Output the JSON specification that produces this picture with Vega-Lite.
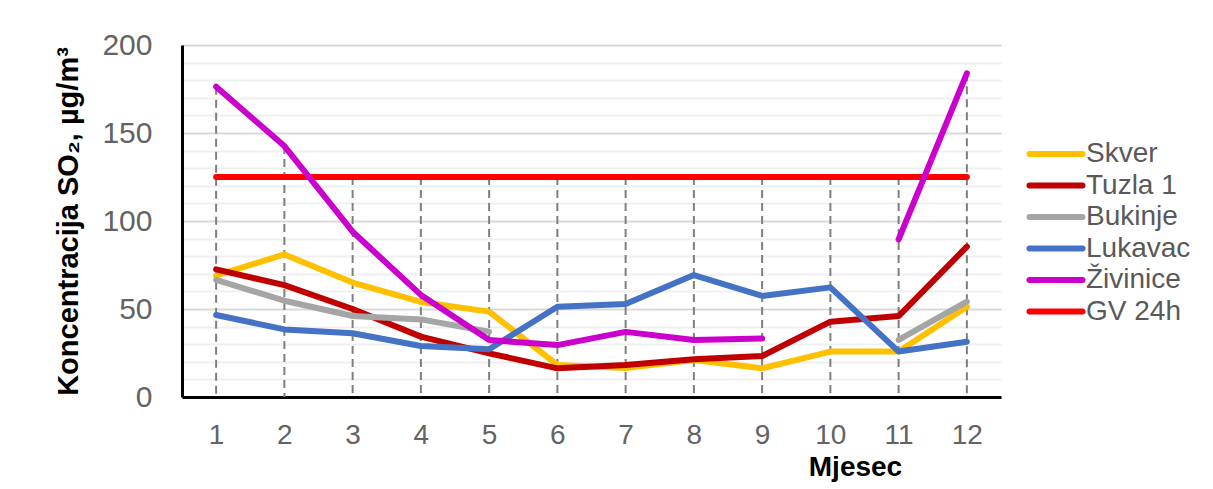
{
  "$schema": "https://vega.github.io/schema/vega-lite/v6.json",
  "width": 819,
  "height": 352,
  "autosize": {"type": "none"},
  "padding": {"left": 182, "top": 45, "right": 212, "bottom": 92},
  "config": {
    "view": {"stroke": null},
    "font": "Liberation Sans",
    "axisX": {
      "format": "d",
      "grid": false,
      "ticks": false,
      "tickSize": 0,
      "domainColor": "#000000",
      "domainWidth": 3,
      "labelFontSize": 28,
      "labelColor": "#636363",
      "labelPadding": 24,
      "labelFlush": false,
      "labelOverlap": false,
      "titleFontSize": 28,
      "titleFontWeight": "bold",
      "titleColor": "#000000",
      "titleX": 673,
      "titleY": 78,
      "titleAlign": "center",
      "titleBaseline": "alphabetic"
    },
    "axisY": {
      "format": "d",
      "grid": true,
      "gridWidth": 2,
      "ticks": false,
      "tickSize": 0,
      "domainColor": "#000000",
      "domainWidth": 3,
      "labelFontSize": 30,
      "labelColor": "#636363",
      "labelPadding": 30,
      "labelFlush": false,
      "labelOverlap": false,
      "titleFontSize": 29,
      "titleFontWeight": "bold",
      "titleColor": "#000000",
      "titleAngle": -90,
      "titleX": -105,
      "titleY": 176,
      "titleAlign": "center",
      "titleBaseline": "alphabetic"
    }
  },
  "data": {
    "values": [
      {"month": 1, "series": "GV 24h", "value": 125},
      {"month": 2, "series": "GV 24h", "value": 125},
      {"month": 3, "series": "GV 24h", "value": 125},
      {"month": 4, "series": "GV 24h", "value": 125},
      {"month": 5, "series": "GV 24h", "value": 125},
      {"month": 6, "series": "GV 24h", "value": 125},
      {"month": 7, "series": "GV 24h", "value": 125},
      {"month": 8, "series": "GV 24h", "value": 125},
      {"month": 9, "series": "GV 24h", "value": 125},
      {"month": 10, "series": "GV 24h", "value": 125},
      {"month": 11, "series": "GV 24h", "value": 125},
      {"month": 12, "series": "GV 24h", "value": 125},
      {"month": 1, "series": "Skver", "value": 69},
      {"month": 2, "series": "Skver", "value": 81},
      {"month": 3, "series": "Skver", "value": 65},
      {"month": 4, "series": "Skver", "value": 54},
      {"month": 5, "series": "Skver", "value": 48.5},
      {"month": 6, "series": "Skver", "value": 18.2},
      {"month": 7, "series": "Skver", "value": 16.5},
      {"month": 8, "series": "Skver", "value": 21},
      {"month": 9, "series": "Skver", "value": 16.3},
      {"month": 10, "series": "Skver", "value": 25.8},
      {"month": 11, "series": "Skver", "value": 25.8},
      {"month": 12, "series": "Skver", "value": 51.3},
      {"month": 1, "series": "Tuzla 1", "value": 72.5},
      {"month": 2, "series": "Tuzla 1", "value": 63.6},
      {"month": 3, "series": "Tuzla 1", "value": 50},
      {"month": 4, "series": "Tuzla 1", "value": 34.3},
      {"month": 5, "series": "Tuzla 1", "value": 24.8},
      {"month": 6, "series": "Tuzla 1", "value": 16.3},
      {"month": 7, "series": "Tuzla 1", "value": 18.2},
      {"month": 8, "series": "Tuzla 1", "value": 21.4},
      {"month": 9, "series": "Tuzla 1", "value": 23.3},
      {"month": 10, "series": "Tuzla 1", "value": 42.8},
      {"month": 11, "series": "Tuzla 1", "value": 46},
      {"month": 12, "series": "Tuzla 1", "value": 85.4},
      {"month": 1, "series": "Bukinje", "value": 66.5},
      {"month": 2, "series": "Bukinje", "value": 54.7},
      {"month": 3, "series": "Bukinje", "value": 46},
      {"month": 4, "series": "Bukinje", "value": 44.1},
      {"month": 5, "series": "Bukinje", "value": 37.1},
      {"month": 6, "series": "Bukinje", "value": null},
      {"month": 7, "series": "Bukinje", "value": null},
      {"month": 8, "series": "Bukinje", "value": null},
      {"month": 9, "series": "Bukinje", "value": null},
      {"month": 10, "series": "Bukinje", "value": null},
      {"month": 11, "series": "Bukinje", "value": 32.4},
      {"month": 12, "series": "Bukinje", "value": 54.2},
      {"month": 1, "series": "Lukavac", "value": 46.6},
      {"month": 2, "series": "Lukavac", "value": 38.4},
      {"month": 3, "series": "Lukavac", "value": 36.2},
      {"month": 4, "series": "Lukavac", "value": 29},
      {"month": 5, "series": "Lukavac", "value": 27.1},
      {"month": 6, "series": "Lukavac", "value": 51.3},
      {"month": 7, "series": "Lukavac", "value": 52.8},
      {"month": 8, "series": "Lukavac", "value": 69.3},
      {"month": 9, "series": "Lukavac", "value": 57.4},
      {"month": 10, "series": "Lukavac", "value": 62.3},
      {"month": 11, "series": "Lukavac", "value": 25.8},
      {"month": 12, "series": "Lukavac", "value": 31.4},
      {"month": 1, "series": "Živinice", "value": 176.3},
      {"month": 2, "series": "Živinice", "value": 142.6},
      {"month": 3, "series": "Živinice", "value": 93.9},
      {"month": 4, "series": "Živinice", "value": 58},
      {"month": 5, "series": "Živinice", "value": 32.4},
      {"month": 6, "series": "Živinice", "value": 29.5},
      {"month": 7, "series": "Živinice", "value": 37},
      {"month": 8, "series": "Živinice", "value": 32.4},
      {"month": 9, "series": "Živinice", "value": 33.3},
      {"month": 10, "series": "Živinice", "value": null},
      {"month": 11, "series": "Živinice", "value": 89.6},
      {"month": 12, "series": "Živinice", "value": 183.9}
    ]
  },
  "layer": [
    {
      "transform": [
        {"aggregate": [{"op": "max", "field": "value", "as": "maxv"}], "groupby": ["month"]}
      ],
      "mark": {"type": "rule", "stroke": "#7f7f7f", "strokeWidth": 2, "strokeDash": [8, 5]},
      "encoding": {
        "x": {"field": "month", "type": "quantitative", "scale": {"domain": [0.5, 12.5], "nice": false, "zero": false},
          "axis": {"title": "Mjesec", "values": [1, 2, 3, 4, 5, 6, 7, 8, 9, 10, 11, 12]}},
        "y": {"field": "maxv", "type": "quantitative", "scale": {"domain": [0, 200], "nice": false},
          "axis": {
            "title": "Koncentracija SO₂, µg/m³",
            "values": [0, 10, 20, 30, 40, 50, 60, 70, 80, 90, 100, 110, 120, 130, 140, 150, 160, 170, 180, 190, 200],
            "labelExpr": "datum.value % 50 === 0 ? datum.label : ''",
            "gridColor": {"condition": {"test": "datum.value % 50 === 0", "value": "#d9d9d9"}, "value": "#f0f0f0"}
          }
        },
        "y2": {"datum": 0}
      }
    },
    {
      "mark": {"type": "line", "strokeWidth": 6, "strokeCap": "round", "strokeJoin": "round", "invalid": "break-paths-filter-domains"},
      "encoding": {
        "x": {"field": "month", "type": "quantitative", "scale": {"domain": [0.5, 12.5], "nice": false, "zero": false},
          "axis": {"title": "Mjesec", "values": [1, 2, 3, 4, 5, 6, 7, 8, 9, 10, 11, 12]}},
        "y": {"field": "value", "type": "quantitative", "scale": {"domain": [0, 200], "nice": false},
          "axis": {
            "title": "Koncentracija SO₂, µg/m³",
            "values": [0, 10, 20, 30, 40, 50, 60, 70, 80, 90, 100, 110, 120, 130, 140, 150, 160, 170, 180, 190, 200],
            "labelExpr": "datum.value % 50 === 0 ? datum.label : ''",
            "gridColor": {"condition": {"test": "datum.value % 50 === 0", "value": "#d9d9d9"}, "value": "#f0f0f0"}
          }
        },
        "color": {
          "field": "series",
          "type": "nominal",
          "scale": {
            "domain": ["Skver", "Tuzla 1", "Bukinje", "Lukavac", "Živinice", "GV 24h"],
            "range": ["#FFC000", "#C00000", "#A5A5A5", "#4472C4", "#CC00CC", "#FF0000"]
          },
          "legend": {
            "title": null,
            "orient": "none",
            "legendX": 860,
            "legendY": 95,
            "padding": 0,
            "symbolType": "M-5.3,0H5.3",
            "symbolStrokeWidth": 6,
            "symbolSize": 100,
            "rowPadding": 3.5,
            "labelOffset": 16,
            "labelFontSize": 28,
            "labelColor": "#595959",
            "labelLimit": 300,
            "encode": {"symbols": {"update": {"strokeCap": {"value": "round"}, "fill": {"value": "transparent"}}}}
          }
        }
      }
    }
  ]
}
